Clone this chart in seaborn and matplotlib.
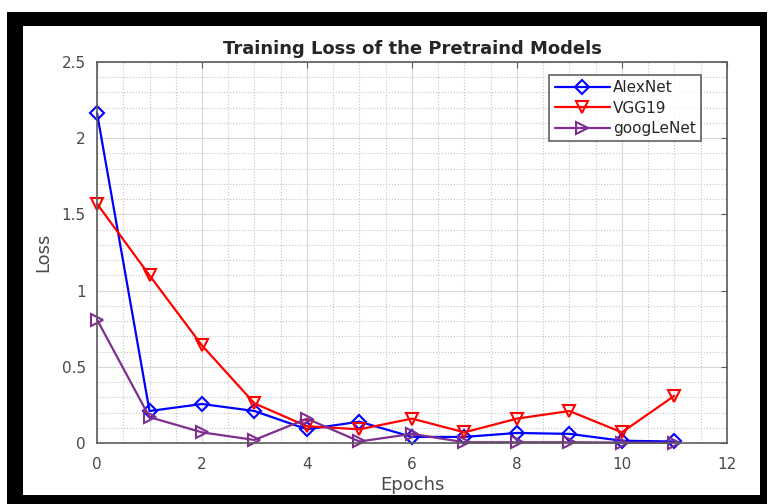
import numpy as np
import pandas as pd
import seaborn as sns
import matplotlib.pyplot as plt
from matplotlib.patches import Rectangle
from matplotlib.ticker import MultipleLocator

# values
epochs = list(range(12))
alexnet = [2.165, 0.21, 0.256, 0.21, 0.09, 0.14, 0.04, 0.04, 0.066, 0.06, 0.015, 0.01]
vgg19 = [1.57, 1.10, 0.64, 0.26, 0.11, 0.09, 0.16, 0.07, 0.16, 0.21, 0.07, 0.31]
googlenet = [0.81, 0.17, 0.07, 0.02, 0.16, 0.01, 0.06, 0.005, 0.005, 0.005, 0.003, 0.002]

series = [
    ('AlexNet', alexnet, '#0000FF', 'D', 7),
    ('VGG19', vgg19, '#FF0000', 'v', 9),
    ('googLeNet', googlenet, '#7E2F8E', '>', 9),
]

sns.set_style('white')
plt.rcParams['font.family'] = ['DejaVu Sans']

fig = plt.figure(figsize=(7.7, 5.04), dpi=100, facecolor='white')

# black picture frame around the figure
fig.patches.append(Rectangle((0.0091, 0.0), 0.987, 0.976, transform=fig.transFigure,
                             facecolor='black', edgecolor='none', zorder=-10))
fig.patches.append(Rectangle((0.0299, 0.0179), 0.957, 0.9305, transform=fig.transFigure,
                             facecolor='white', edgecolor='none', zorder=-9))

ax = fig.add_axes([0.126, 0.121, 0.818, 0.756])

for name, vals, color, marker, ms in series:
    df = pd.DataFrame({'Epochs': epochs, 'Loss': vals})
    sns.lineplot(data=df, x='Epochs', y='Loss', ax=ax, color=color, marker=marker,
                 markersize=ms, mfc='none', mec=color, mew=1.5, linewidth=1.6,
                 label=name, clip_on=False)

ax.set_xlim(0, 12)
ax.set_ylim(0, 2.5)
ax.xaxis.set_major_locator(MultipleLocator(2))
ax.xaxis.set_minor_locator(MultipleLocator(0.5))
ax.yaxis.set_major_locator(MultipleLocator(0.5))
ax.yaxis.set_minor_locator(MultipleLocator(0.1))
ax.set_yticks([0, 0.5, 1, 1.5, 2, 2.5], ['0', '0.5', '1', '1.5', '2', '2.5'])

ax.grid(True, which='major', color='#d8d8d8', linestyle='-', linewidth=0.8)
ax.grid(True, which='minor', color='#c4c4c4', linestyle=':', linewidth=0.8)
ax.set_axisbelow(True)

for sp in ax.spines.values():
    sp.set_color('#5a5a5a')
    sp.set_linewidth(1.2)
ax.tick_params(which='both', direction='in', top=True, right=True, colors='#5a5a5a',
               labelcolor='#4a4a4a', labelsize=11)
ax.tick_params(which='major', length=4)
ax.tick_params(which='minor', length=0)
ax.tick_params(axis='x', which='major', pad=10)
ax.tick_params(axis='y', which='major', pad=8)

ax.set_xlabel('Epochs', fontsize=13, color='#4a4a4a', labelpad=3)
ax.set_ylabel('Loss', fontsize=13, color='#4a4a4a', labelpad=7)
ax.set_title('Training Loss of the Pretraind Models', fontsize=13, fontweight='bold',
             pad=6)

leg = ax.legend(loc='upper right', bbox_to_anchor=(0.959, 0.966), borderaxespad=0,
                fancybox=False, frameon=True, fontsize=11, handlelength=3.6,
                handletextpad=0.2, labelspacing=0.35, borderpad=0.35)
leg.get_frame().set_edgecolor('#3a3a3a')
leg.get_frame().set_linewidth(1.2)

fig.savefig('out.png', dpi=100, facecolor='white')
